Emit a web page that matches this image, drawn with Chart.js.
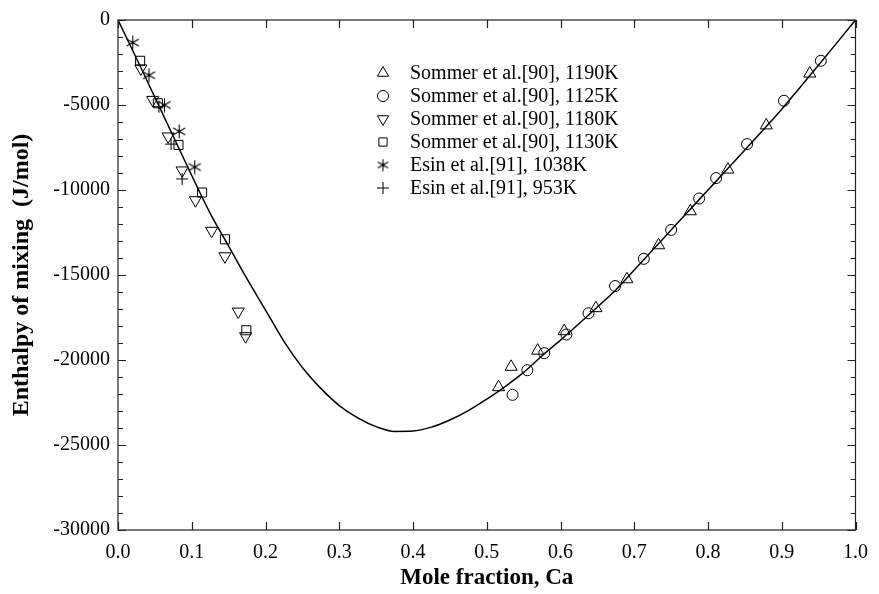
<!DOCTYPE html>
<html>
<head>
<meta charset="utf-8">
<title>Enthalpy of mixing</title>
<script src="https://cdn.jsdelivr.net/npm/chart.js@4"></script>
<style>
  html, body { margin: 0; padding: 0; background: #fff; }
  #wrap { width: 879px; height: 594px; }
</style>
</head>
<body>
<div id="wrap"><canvas id="chart"></canvas></div>
<script>
// calculated curve
const curveX = [0, 0.025, 0.05, 0.075, 0.1, 0.125, 0.15, 0.175, 0.2, 0.225, 0.25, 0.275, 0.3, 0.325,
  0.35, 0.375, 0.4, 0.425, 0.45, 0.475, 0.5, 0.525, 0.55, 0.575, 0.6, 0.625, 0.65, 0.675, 0.7,
  0.725, 0.75, 0.775, 0.8, 0.825, 0.85, 0.875, 0.9, 0.925, 0.95, 0.975, 1.0];
const curveY = [0, -2250, -4550, -6850, -9150, -11370, -13300, -15230, -17060, -18900, -20440,
  -21670, -22680, -23400, -23920, -24200, -24180, -23950, -23530, -22980, -22300, -21560,
  -20730, -19750, -18830, -17870, -16880, -15880, -14700, -13530, -12350, -11170, -10000,
  -8830, -7650, -6450, -5250, -3950, -2650, -1330, 0];

// experimental points
const sommer1190X = [0.516, 0.533, 0.569, 0.605, 0.648, 0.690, 0.733, 0.776, 0.827, 0.879, 0.938];
const sommer1190Y = [-21600, -20400, -19450, -18300, -16950, -15250, -13250, -11250, -8800, -6200, -3150];

const sommer1125X = [0.535, 0.555, 0.578, 0.608, 0.638, 0.674, 0.713, 0.750, 0.788, 0.811, 0.853, 0.903, 0.953];
const sommer1125Y = [-22050, -20600, -19600, -18500, -17250, -15650, -14050, -12350, -10500, -9300, -7300, -4750, -2400];

const sommer1180X = [0.031, 0.047, 0.068, 0.087, 0.105, 0.127, 0.145, 0.163, 0.173];
const sommer1180Y = [-2850, -4700, -6850, -8850, -10600, -12400, -13900, -17150, -18600];

const sommer1130X = [0.030, 0.054, 0.082, 0.114, 0.145, 0.174];
const sommer1130Y = [-2400, -4900, -7350, -10150, -12900, -18250];

const esin1038X = [0.020, 0.042, 0.063, 0.083, 0.104];
const esin1038Y = [-1330, -3250, -5000, -6550, -8650];

const esin953X = [0.0555, 0.072, 0.087];
const esin953Y = [-5100, -7300, -9350];

const seriesLabels = [
  'Sommer et al.[90], 1190K',
  'Sommer et al.[90], 1125K',
  'Sommer et al.[90], 1180K',
  'Sommer et al.[90], 1130K',
  'Esin et al.[91], 1038K',
  'Esin et al.[91], 953K',
];

const xTickValues = [0, 0.1, 0.2, 0.3, 0.4, 0.5, 0.6, 0.7, 0.8, 0.9, 1.0];
const yTickValues = [0, -5000, -10000, -15000, -20000, -25000, -30000];

const toPoints = (xs, ys) => xs.map((x, i) => ({ x, y: ys[i] }));

// six-armed asterisk marker
function makeAsterisk(size) {
  const c = document.createElement('canvas');
  c.width = size;
  c.height = size;
  const g = c.getContext('2d');
  g.strokeStyle = '#000';
  g.lineWidth = 1.1;
  const m = size / 2;
  const r = m - 0.5;
  for (let k = 0; k < 3; k++) {
    const a = Math.PI / 2 + k * Math.PI / 3;
    g.beginPath();
    g.moveTo(m + r * Math.cos(a), m + r * Math.sin(a));
    g.lineTo(m - r * Math.cos(a), m - r * Math.sin(a));
    g.stroke();
  }
  g.fillStyle = '#000';
  g.beginPath();
  g.arc(m, m, 1.3, 0, Math.PI * 2);
  g.fill();
  return c;
}
const asterisk = makeAsterisk(15);
const asteriskSmall = makeAsterisk(13);

const serif = "'Liberation Serif', 'Times New Roman', serif";

const markers = [
  { style: 'triangle', radius: 7, rotation: 0, legendRadius: 6.5 },
  { style: 'circle', radius: 5.5, rotation: 0, legendRadius: 5.5 },
  { style: 'triangle', radius: 7, rotation: 180, legendRadius: 6.5 },
  { style: 'rect', radius: 6.4, rotation: 0, legendRadius: 5.8 },
  { style: asterisk, radius: 6, rotation: 0, legendStyle: asteriskSmall, legendRadius: 5 },
  { style: 'cross', radius: 6, rotation: 0, legendRadius: 6 },
];

const pointSets = [
  toPoints(sommer1190X, sommer1190Y),
  toPoints(sommer1125X, sommer1125Y),
  toPoints(sommer1180X, sommer1180Y),
  toPoints(sommer1130X, sommer1130Y),
  toPoints(esin1038X, esin1038Y),
  toPoints(esin953X, esin953Y),
];

const datasets = [
  {
    label: 'model',
    data: toPoints(curveX, curveY),
    showLine: true,
    borderColor: '#000',
    borderWidth: 1.5,
    pointRadius: 0,
    cubicInterpolationMode: 'monotone',
    order: 0,
  },
].concat(pointSets.map((pts, i) => ({
  label: seriesLabels[i],
  data: pts,
  showLine: false,
  pointStyle: markers[i].style,
  pointRadius: markers[i].radius,
  pointRotation: markers[i].rotation,
  pointBorderColor: '#000',
  pointBackgroundColor: 'rgba(0,0,0,0)',
  pointBorderWidth: 1,
  order: 1,
})));

// box, inward ticks and the legend inside the plot
const framePlugin = {
  id: 'frame',
  afterDraw(chart) {
    const { ctx, chartArea: a, scales } = chart;
    const xs = scales.x;
    const ys = scales.y;
    ctx.save();
    ctx.strokeStyle = '#222';
    ctx.lineWidth = 1.2;
    ctx.strokeRect(a.left, a.top, a.right - a.left, a.bottom - a.top);

    ctx.beginPath();
    xTickValues.forEach((v) => {
      const px = Math.round(xs.getPixelForValue(v)) + 0.5;
      ctx.moveTo(px, a.bottom);
      ctx.lineTo(px, a.bottom - 8);
      ctx.moveTo(px, a.top);
      ctx.lineTo(px, a.top + 8);
    });
    for (let v = 0; v >= -30000; v -= 1000) {
      const py = Math.round(ys.getPixelForValue(v)) + 0.5;
      const len = v % 5000 === 0 ? 8 : 5;
      ctx.moveTo(a.left, py);
      ctx.lineTo(a.left + len, py);
      ctx.moveTo(a.right, py);
      ctx.lineTo(a.right - len, py);
    }
    ctx.stroke();

    // legend
    const lx = 383;
    const tx = 410;
    let ly = 73;
    ctx.font = '20px ' + serif;
    ctx.textBaseline = 'middle';
    ctx.textAlign = 'left';
    seriesLabels.forEach((label, i) => {
      const m = markers[i];
      ctx.strokeStyle = '#000';
      ctx.fillStyle = 'rgba(0,0,0,0)';
      ctx.lineWidth = 1;
      Chart.helpers.drawPoint(ctx, {
        pointStyle: m.legendStyle || m.style,
        radius: m.legendRadius,
        rotation: m.rotation,
        borderWidth: 1,
      }, lx, ly);
      ctx.fillStyle = '#000';
      ctx.fillText(label, tx, ly + 1);
      ly += 23;
    });
    ctx.restore();
  },
};

new Chart(document.getElementById('chart'), {
  type: 'scatter',
  data: { datasets },
  plugins: [framePlugin],
  options: {
    responsive: true,
    maintainAspectRatio: false,
    animation: false,
    layout: { padding: { top: 20, right: 17, left: 0, bottom: 0 } },
    plugins: {
      legend: { display: false },
      tooltip: { enabled: false },
    },
    scales: {
      x: {
        type: 'linear',
        min: 0,
        max: 1,
        afterBuildTicks: (scale) => {
          scale.ticks = xTickValues.map((v) => ({ value: v }));
        },
        afterFit: (scale) => { scale.height = 64; },
        grid: { display: false, drawTicks: false },
        border: { display: false },
        ticks: {
          padding: 11,
          color: '#000',
          font: { family: serif, size: 20 },
          maxRotation: 0,
          autoSkip: false,
          callback: (v) => Number(v).toFixed(1),
        },
        title: {
          display: true,
          text: 'Mole fraction, Ca',
          color: '#000',
          font: { family: serif, size: 23, weight: 'bold' },
          padding: { top: 0, bottom: 2 },
        },
      },
      y: {
        type: 'linear',
        min: -30000,
        max: 0,
        afterBuildTicks: (scale) => {
          scale.ticks = yTickValues.map((v) => ({ value: v }));
        },
        afterFit: (scale) => { scale.width = 118; },
        grid: { display: false, drawTicks: false },
        border: { display: false },
        ticks: {
          padding: 8,
          color: '#000',
          font: { family: serif, size: 20 },
          autoSkip: false,
          callback: (v) => String(v),
        },
        title: {
          display: true,
          text: 'Enthalpy of mixing  (J/mol)',
          color: '#000',
          font: { family: serif, size: 24, weight: 'bold' },
          padding: { top: 7, bottom: 0 },
        },
      },
    },
  },
});
</script>
</body>
</html>
